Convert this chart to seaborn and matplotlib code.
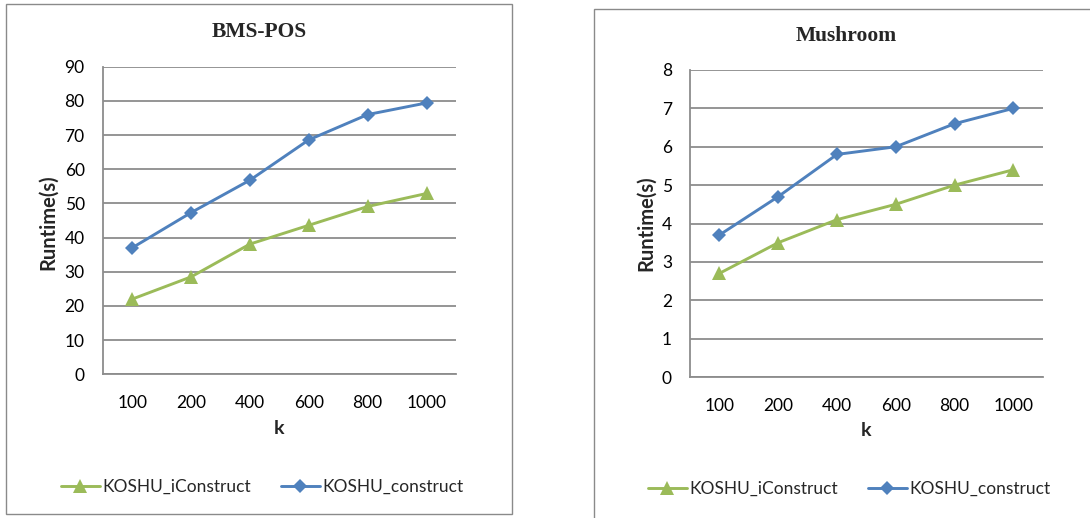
import matplotlib
matplotlib.use("Agg")
import matplotlib.pyplot as plt
from matplotlib.patches import Rectangle
import seaborn as sns
import pandas as pd

# Top-k values and runtimes (seconds)
k_labels = ["100", "200", "400", "600", "800", "1000"]
series_names = ["KOSHU_iConstruct", "KOSHU_construct"]

bms_iconstruct = [22.0, 28.5, 38.1, 43.6, 49.1, 52.9]
bms_construct = [37.0, 47.3, 56.8, 68.6, 76.0, 79.4]

mush_iconstruct = [2.7, 3.5, 4.1, 4.5, 5.0, 5.4]
mush_construct = [3.7, 4.7, 5.8, 6.0, 6.6, 7.0]

sns.set_theme(style="white")
plt.rcParams["font.family"] = ["Lato", "DejaVu Sans"]

W, H = 1090, 518
fig = plt.figure(figsize=(W / 100, H / 100), dpi=100)

palette = {"KOSHU_iConstruct": "#9BBB59", "KOSHU_construct": "#4F81BD"}
markers = {"KOSHU_iConstruct": "^", "KOSHU_construct": "D"}
marker_sizes = {"KOSHU_iConstruct": 9.5, "KOSHU_construct": 7.5}
grid_color = "#8c8c8c"


def fx(px):
    return px / W


def fy(py):
    return 1 - py / H


def long_frame(ic, c):
    return pd.DataFrame({
        "k": k_labels * 2,
        "runtime": ic + c,
        "series": [series_names[0]] * len(k_labels) + [series_names[1]] * len(k_labels),
    })


def panel(box, ax_rect, title, title_xy, ylabel_xy, xlabel_xy, legend_xy,
          ic, c, ymax, ystep):
    # frame around the whole chart
    x0, y0, x1, y1 = box
    fig.add_artist(Rectangle((fx(x0), fy(y1)), fx(x1 - x0), (y1 - y0) / H,
                             transform=fig.transFigure, fill=False,
                             edgecolor="#8a8a8a", linewidth=1.0))
    l, t, r, b = ax_rect
    ax = fig.add_axes([fx(l), fy(b), fx(r - l), (b - t) / H])
    df = long_frame(ic, c)
    sns.lineplot(data=df, x="k", y="runtime", hue="series", style="series",
                 hue_order=series_names, style_order=series_names,
                 palette=palette, markers=markers, dashes=False,
                 linewidth=2.1, markersize=7, markeredgewidth=0,
                 ax=ax, legend=True, sort=False)
    for line, name in zip(ax.lines, series_names):
        line.set_markersize(marker_sizes[name])
    ax.set_xlim(-0.5, len(k_labels) - 0.5)
    ax.set_ylim(0, ymax)
    ax.set_yticks([ystep * i for i in range(int(round(ymax / ystep)) + 1)])
    ax.yaxis.grid(True, color=grid_color, linewidth=1.3)
    ax.xaxis.grid(False)
    ax.set_axisbelow(True)
    for s in ["top", "right"]:
        ax.spines[s].set_visible(False)
    ax.spines["left"].set_color(grid_color)
    ax.spines["left"].set_linewidth(1.3)
    ax.spines["bottom"].set_color(grid_color)
    ax.spines["bottom"].set_linewidth(1.3)
    ax.tick_params(axis="both", length=0, labelsize=12.5, colors="#000000")
    ax.tick_params(axis="y", pad=13)
    ax.tick_params(axis="x", pad=15)
    ax.set_xlabel("")
    ax.set_ylabel("")
    handles, labels = ax.get_legend_handles_labels()
    for h, name in zip(handles, labels):
        h.set_markersize(marker_sizes[name])
        h.set_linewidth(2.1)
    ax.get_legend().remove()
    fig.legend(handles, labels, loc="center", ncol=2,
               bbox_to_anchor=(fx(legend_xy[0]), fy(legend_xy[1])),
               frameon=False, fontsize=12.5, handlelength=2.25,
               handletextpad=0.15, columnspacing=1.7)
    fig.text(fx(title_xy[0]), fy(title_xy[1]), title, ha="center", va="center",
             fontsize=15.5, fontweight="bold", family="Liberation Serif")
    fig.text(fx(ylabel_xy[0]), fy(ylabel_xy[1]), "Runtime(s)", ha="center",
             va="center", rotation=90, fontsize=14.5, fontweight="bold")
    fig.text(fx(xlabel_xy[0]), fy(xlabel_xy[1]), "k", ha="center", va="center",
             fontsize=14, fontweight="bold")
    return ax


panel((6, 4, 512, 514), (102.7, 66.7, 456, 374.3), "BMS-POS",
      (259, 32), (48, 222), (279, 429), (262, 487),
      bms_iconstruct, bms_construct, 90, 10)

panel((594, 8.5, 1096, 524), (690, 70, 1042.7, 377), "Mushroom",
      (846, 36), (646, 223), (866, 431), (849, 489),
      mush_iconstruct, mush_construct, 8, 1)

fig.savefig("out.png", dpi=100, facecolor="white")
